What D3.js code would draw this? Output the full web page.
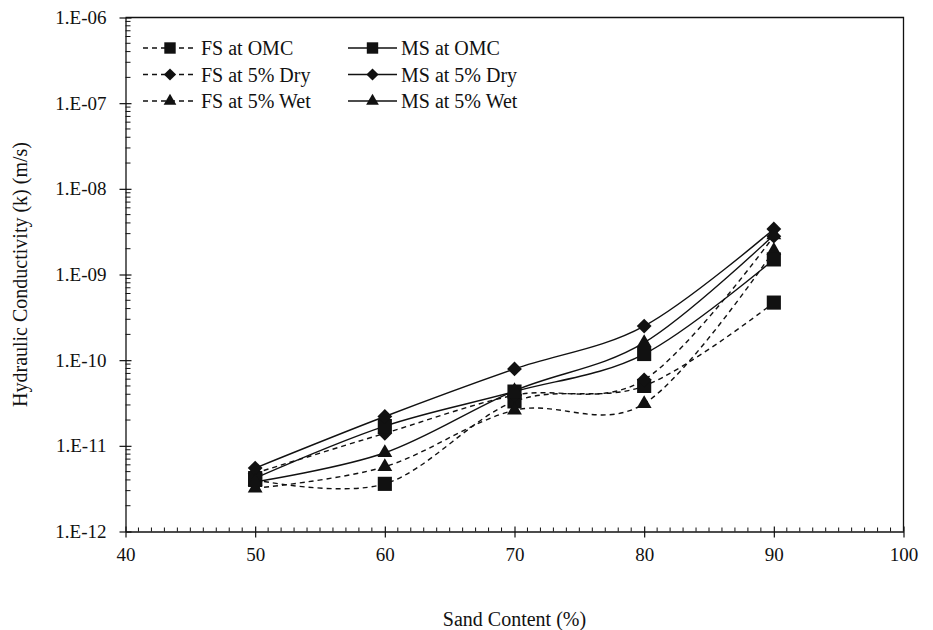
<!DOCTYPE html>
<html>
<head>
<meta charset="utf-8">
<script src="https://cdn.jsdelivr.net/npm/d3@7"></script>
<style>
  body { margin: 0; background: #fff; }
  text { font-family: "Liberation Serif", "Times New Roman", serif; fill: #111; }
</style>
</head>
<body>
<svg id="chart" width="933" height="630"></svg>
<script>
// sand content (%)
var sand = [50, 60, 70, 80, 90];

// hydraulic conductivity (m/s)
var fsOmc = [4.0e-12, 3.6e-12, 3.3e-11, 5.0e-11, 4.7e-10];
var fsDry = [4.8e-12, 1.4e-11, 3.9e-11, 5.9e-11, 2.8e-9];
var fsWet = [3.2e-12, 5.7e-12, 2.6e-11, 3.1e-11, 1.9e-9];
var msOmc = [4.2e-12, 1.7e-11, 4.3e-11, 1.18e-10, 1.5e-9];
var msDry = [5.5e-12, 2.2e-11, 7.9e-11, 2.5e-10, 3.4e-9];
var msWet = [3.8e-12, 8.3e-12, 4.4e-11, 1.6e-10, 2.9e-9];

var xTicks = [40, 50, 60, 70, 80, 90, 100];
var yTicks = [1e-12, 1e-11, 1e-10, 1e-9, 1e-8, 1e-7, 1e-6];
var yTickLabels = ['1.E-12', '1.E-11', '1.E-10', '1.E-09', '1.E-08', '1.E-07', '1.E-06'];

var series = [
	{name: 'FS at OMC', values: fsOmc, dashed: true, marker: 'square'},
	{name: 'FS at 5% Dry', values: fsDry, dashed: true, marker: 'diamond'},
	{name: 'FS at 5% Wet', values: fsWet, dashed: true, marker: 'triangle'},
	{name: 'MS at OMC', values: msOmc, dashed: false, marker: 'square'},
	{name: 'MS at 5% Dry', values: msDry, dashed: false, marker: 'diamond'},
	{name: 'MS at 5% Wet', values: msWet, dashed: false, marker: 'triangle'}
];

var ink = '#111';
var svg = d3.select('#chart');
var pLeft = 125.5, pRight = 903.5, pTop = 17.5, pBottom = 531.5;

var x = d3.scaleLinear().domain([40, 100]).range([pLeft, pRight]);
var y = d3.scaleLog().domain([1e-12, 1e-6]).range([pBottom, pTop]);

//plot frame (top and right borders)
svg.append('path')
	.attr('d', 'M' + pLeft + ',' + pTop + 'H' + pRight + 'V' + pBottom)
	.style('fill', 'none').style('stroke', ink).style('stroke-width', 1.3);

//minor ticks
var xMinor = d3.range(40, 101, 1).filter(v => v % 10 !== 0);
svg.append('g').selectAll('line').data(xMinor).join('line')
	.attr('x1', d => x(d)).attr('x2', d => x(d))
	.attr('y1', pBottom).attr('y2', pBottom - 4)
	.style('stroke', ink).style('stroke-width', 1);

var yMinor = [];
for (var e = -12; e < -6; e++) {
	for (var m = 2; m <= 9; m++) yMinor.push(m * Math.pow(10, e));
}
svg.append('g').selectAll('line').data(yMinor).join('line')
	.attr('x1', pLeft).attr('x2', pLeft + 5)
	.attr('y1', d => y(d)).attr('y2', d => y(d))
	.style('stroke', ink).style('stroke-width', 1);

//axes
var xAxis = d3.axisBottom(x).tickValues(xTicks).tickSizeInner(6).tickSizeOuter(0).tickPadding(10);
var gx = svg.append('g').attr('transform', 'translate(0,' + pBottom + ')').call(xAxis);
gx.selectAll('.tick line').attr('y1', -5);

var yAxis = d3.axisLeft(y).tickValues(yTicks).tickFormat((d, i) => yTickLabels[i])
	.tickSizeInner(6).tickSizeOuter(0).tickPadding(13);
var gy = svg.append('g').attr('transform', 'translate(' + pLeft + ',0)').call(yAxis);
gy.selectAll('.tick line').attr('x1', 6);

[gx, gy].forEach(g => {
	g.select('.domain').style('stroke', ink).style('stroke-width', 1.3);
	g.selectAll('.tick line').style('stroke', ink).style('stroke-width', 1.2);
	g.selectAll('text').style('font-family', '"Liberation Serif", serif')
		.style('font-size', '19px').style('fill', ink);
});

//series lines
var line = d3.line()
	.x((d, i) => x(sand[i]))
	.y(d => y(d))
	.curve(d3.curveCardinal.tension(0));

var symbolSize = {square: 200, diamond: 110, triangle: 95};
function symbolOf(marker) {
	if (marker === 'square') return d3.symbol().type(d3.symbolSquare).size(symbolSize.square);
	if (marker === 'diamond') return d3.symbol().type(d3.symbolSquare).size(symbolSize.diamond);
	return d3.symbol().type(d3.symbolTriangle).size(symbolSize.triangle);
}

var gs = svg.append('g');
series.forEach(s => {
	gs.append('path')
		.attr('d', line(s.values))
		.style('fill', 'none')
		.style('stroke', ink)
		.style('stroke-width', 1.4)
		.style('stroke-dasharray', s.dashed ? '5,4' : null);
});
series.forEach(s => {
	gs.append('g').selectAll('path').data(s.values).join('path')
		.attr('d', symbolOf(s.marker)())
		.attr('transform', (d, i) => 'translate(' + x(sand[i]) + ',' + y(d) + ')' + (s.marker === 'diamond' ? ' rotate(45)' : ''))
		.style('fill', ink);
});

//legend
var legCols = [{x0: 143, x1: 197, tx: 201}, {x0: 348, x1: 397, tx: 401}];
var legRows = [48, 74.5, 101];
var gl = svg.append('g');
series.forEach((s, i) => {
	var col = legCols[s.dashed ? 0 : 1];
	var ry = legRows[i % 3];
	gl.append('line')
		.attr('x1', col.x0).attr('x2', col.x1).attr('y1', ry).attr('y2', ry)
		.style('stroke', ink).style('stroke-width', 1.4)
		.style('stroke-dasharray', s.dashed ? '5,4' : null);
	var sz = s.marker === 'square' ? 130 : (s.marker === 'diamond' ? 75 : 70);
	gl.append('path')
		.attr('d', d3.symbol().type(s.marker === 'triangle' ? d3.symbolTriangle : d3.symbolSquare).size(sz)())
		.attr('transform', 'translate(' + (col.x0 + col.x1) / 2 + ',' + ry + ')' + (s.marker === 'diamond' ? ' rotate(45)' : ''))
		.style('fill', ink);
	gl.append('text')
		.attr('x', col.tx).attr('y', ry).attr('dy', '0.35em')
		.style('font-size', '20px')
		.text(s.name);
});

//axis titles
svg.append('text')
	.attr('x', (pLeft + pRight) / 2).attr('y', 626)
	.attr('text-anchor', 'middle')
	.style('font-size', '20px')
	.text('Sand Content (%)');

svg.append('text')
	.attr('transform', 'translate(27,' + (pTop + pBottom) / 2 + ') rotate(-90)')
	.attr('text-anchor', 'middle')
	.style('font-size', '20px')
	.text('Hydraulic Conductivity (k) (m/s)');
</script>
</body>
</html>
